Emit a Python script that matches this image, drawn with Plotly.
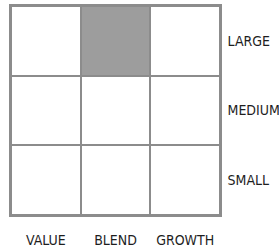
import plotly.graph_objects as go

styles = ["VALUE", "BLEND", "GROWTH"]
sizes = ["SMALL", "MEDIUM", "LARGE"]
# 1 = shaded (fund's style box position), rows in the order of `sizes`
shaded = [
    [0, 0, 0],
    [0, 0, 0],
    [0, 1, 0],
]

FONT = "Liberation Sans Narrow, Arial Narrow, DejaVu Sans Condensed, sans-serif"
LINE = "#8c8c8c"

fig = go.Figure(
    go.Heatmap(
        z=shaded,
        x=styles,
        y=sizes,
        colorscale=[[0, "#ffffff"], [1, "#9d9d9d"]],
        zmin=0,
        zmax=1,
        showscale=False,
        xgap=2,
        ygap=2,
        hoverinfo="skip",
    )
)

fig.update_layout(
    width=279,
    height=250,
    margin=dict(l=11, r=59, t=6, b=35, autoexpand=False),
    paper_bgcolor="white",
    plot_bgcolor=LINE,
    font=dict(family=FONT, size=14, color="#1e1e1e"),
    showlegend=False,
)
fig.update_xaxes(
    type="category",
    range=[-0.5, 2.5],
    showgrid=False,
    zeroline=False,
    showline=True,
    linecolor=LINE,
    linewidth=1.5,
    mirror=True,
    ticks="outside",
    ticklen=11,
    tickcolor="rgba(0,0,0,0)",
    automargin=False,
    fixedrange=True,
)
fig.update_yaxes(
    type="category",
    range=[-0.5, 2.5],
    side="right",
    showgrid=False,
    zeroline=False,
    showline=True,
    linecolor=LINE,
    linewidth=1.5,
    mirror=True,
    ticks="outside",
    ticklen=3,
    tickcolor="rgba(0,0,0,0)",
    automargin=False,
    fixedrange=True,
)

fig.write_html(
    "out.html",
    config={"displayModeBar": False},
    post_script="document.body.style.margin='0';document.body.style.padding='0';",
)
